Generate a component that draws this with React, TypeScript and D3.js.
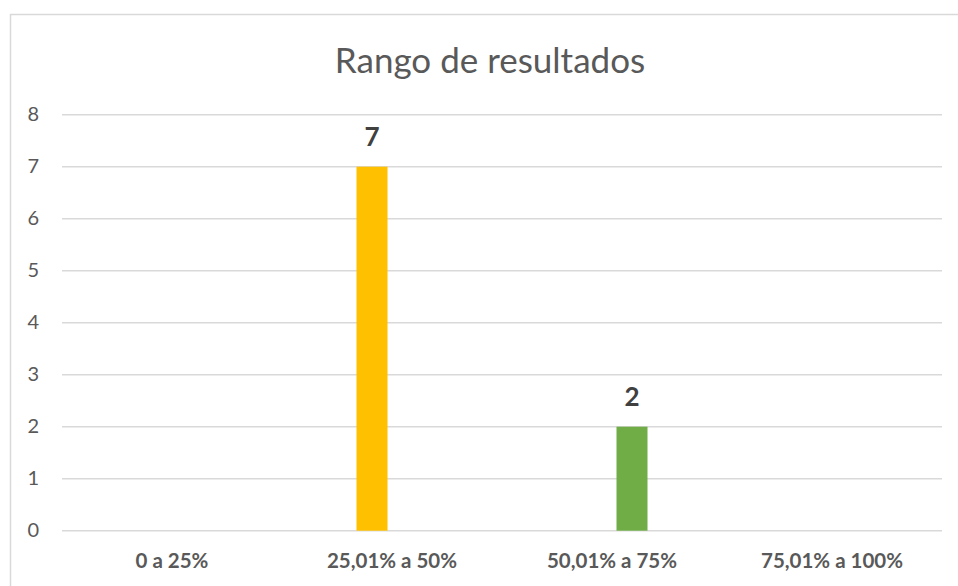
import { useEffect, useRef } from 'react';
import * as d3 from 'd3';

const categories = ['0 a 25%', '25,01% a 50%', '50,01% a 75%', '75,01% a 100%'];
const seriesNames = ['Serie A', 'Serie B'];
const seriesA = [0, 7, 0, 0];
const seriesB = [0, 0, 2, 0];
const seriesColors = ['#FFC000', '#70AD47'];
const yTicks = [0, 1, 2, 3, 4, 5, 6, 7, 8];
const title = 'Rango de resultados';

const width = 958;
const height = 586;

export default function App() {
  const svgRef = useRef<SVGSVGElement>(null);

  useEffect(() => {
    if (!svgRef.current) return;
    const svg = d3.select(svgRef.current);
    svg.selectAll('*').remove();

    const font = 'Lato, Calibri, "Open Sans", sans-serif';
    const plot = { left: 62, right: 942, top: 114.7, bottom: 530.7 };

    // chart frame
    svg.append('rect')
      .attr('x', 10.5)
      .attr('y', 14.5)
      .attr('width', 1000)
      .attr('height', 1000)
      .attr('fill', '#fff')
      .attr('stroke', '#d9d9d9')
      .attr('stroke-width', 1.5);

    const x0 = d3.scaleBand<string>()
      .domain(categories)
      .range([plot.left, plot.right])
      .padding(0);

    const x1 = d3.scaleBand<string>()
      .domain(seriesNames)
      .range([74.5, 145.5])
      .paddingInner(0.225)
      .paddingOuter(0);

    const y = d3.scaleLinear().domain([0, 8]).range([plot.bottom, plot.top]);

    // gridlines
    svg.append('g')
      .selectAll('line')
      .data(yTicks)
      .join('line')
      .attr('x1', plot.left)
      .attr('x2', plot.right)
      .attr('y1', (d) => y(d))
      .attr('y2', (d) => y(d))
      .attr('stroke', '#d9d9d9')
      .attr('stroke-width', 1.5);

    // y tick labels
    svg.append('g')
      .selectAll('text')
      .data(yTicks)
      .join('text')
      .attr('x', 39)
      .attr('y', (d) => y(d) + 6.5)
      .attr('text-anchor', 'end')
      .attr('font-family', font)
      .attr('font-size', '20px')
      .attr('fill', '#595959')
      .text((d) => d);

    // bars + value labels
    const series = [seriesA, seriesB];
    series.forEach((values, si) => {
      const data = values
        .map((v, i) => ({ cat: categories[i], v }))
        .filter((d) => d.v > 0);
      const bx = (d: { cat: string }) =>
        (x0(d.cat) ?? 0) + (x1(seriesNames[si]) ?? 0);

      svg.append('g')
        .selectAll('rect')
        .data(data)
        .join('rect')
        .attr('x', bx)
        .attr('y', (d) => y(d.v))
        .attr('width', x1.bandwidth())
        .attr('height', (d) => y(0) - y(d.v))
        .attr('fill', seriesColors[si]);

      svg.append('g')
        .selectAll('text')
        .data(data)
        .join('text')
        .attr('x', (d) => bx(d) + x1.bandwidth() / 2)
        .attr('y', (d) => y(d.v) - 20.5)
        .attr('text-anchor', 'middle')
        .attr('font-family', font)
        .attr('font-size', '26px')
        .attr('font-weight', 'bold')
        .attr('fill', '#404040')
        .text((d) => d.v);
    });

    // category labels
    svg.append('g')
      .selectAll('text')
      .data(categories)
      .join('text')
      .attr('x', (d) => (x0(d) ?? 0) + x0.bandwidth() / 2)
      .attr('y', 568)
      .attr('text-anchor', 'middle')
      .attr('font-family', font)
      .attr('font-size', '20.5px')
      .attr('font-weight', 'bold')
      .attr('fill', '#595959')
      .text((d) => d);

    // title
    svg.append('text')
      .attr('x', 490)
      .attr('y', 73)
      .attr('text-anchor', 'middle')
      .attr('font-family', font)
      .attr('font-size', '35px')
      .attr('fill', '#595959')
      .text(title);
  }, []);

  return (
    <svg
      ref={svgRef}
      width={width}
      height={height}
      style={{ position: 'absolute', left: 0, top: 0, display: 'block' }}
    />
  );
}
